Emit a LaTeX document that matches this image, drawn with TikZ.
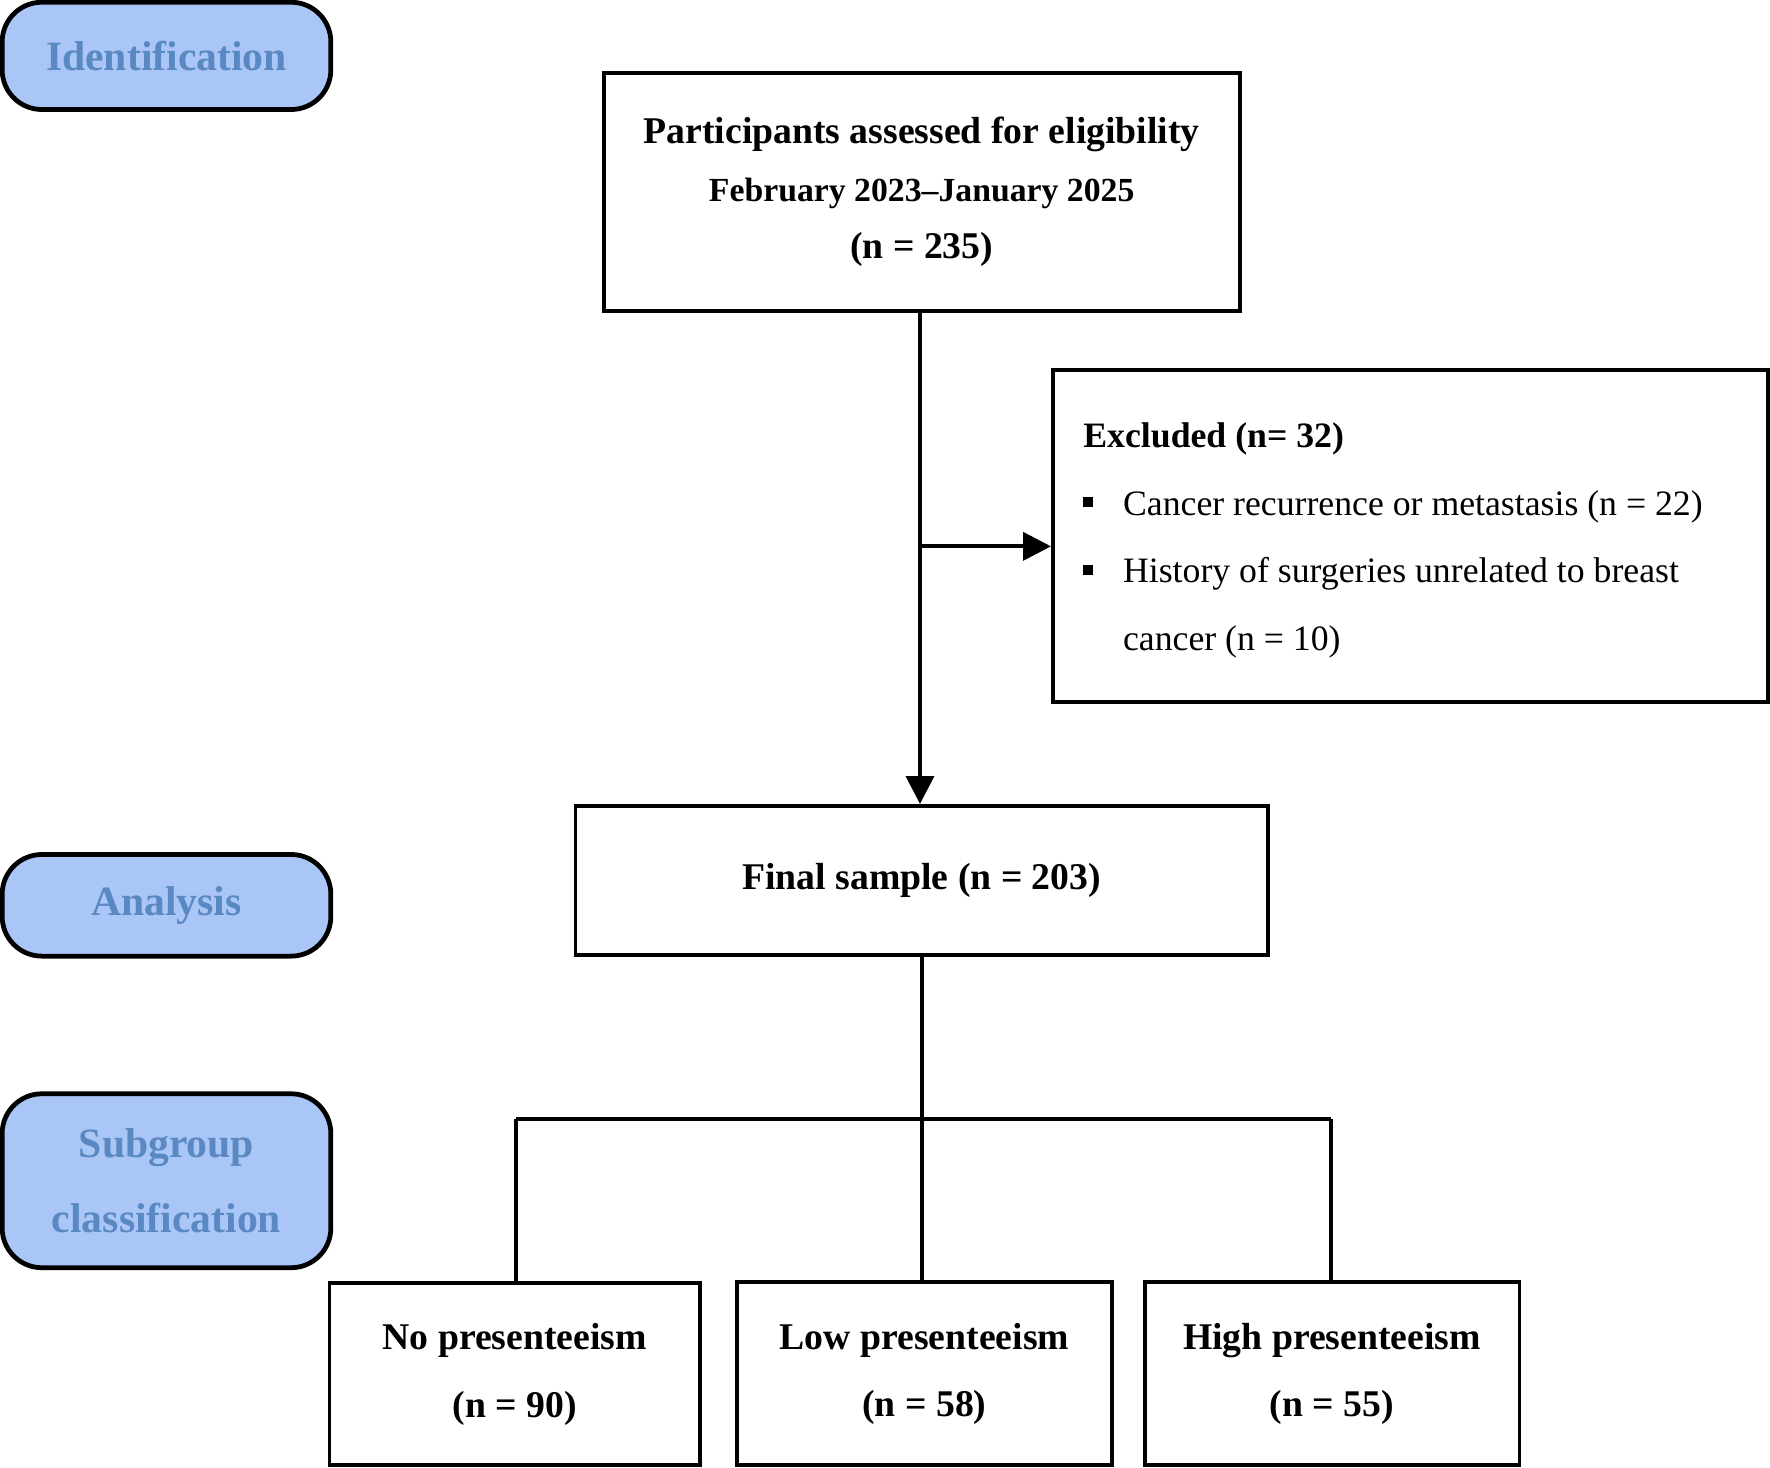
\documentclass[tikz,border=0pt]{standalone}
\usepackage{fontspec}
\setmainfont{Liberation Serif}
\usetikzlibrary{positioning,arrows.meta}
\definecolor{stagefill}{HTML}{A9C6F7}
\definecolor{stagetext}{HTML}{5A88C2}
\newcommand\sqbullet{\raisebox{2pt}{\rule{2.5pt}{2.5pt}}\hspace{7.5pt}}
\tikzset{
  stage/.style={draw,line width=1.2pt,rounded corners=10pt,fill=stagefill,text=stagetext,
    font=\fontsize{10.5}{19}\selectfont\bfseries,align=center,inner sep=0pt},
  flowbox/.style={draw,line width=1pt,align=center,inner sep=0pt},
}
\begin{document}
\begin{tikzpicture}[x=0.01cm,y=-0.01cm,line width=1pt,>={Triangle[length=7pt,width=7pt]}]
\useasboundingbox (0,0) rectangle (1568,1300);
% stage labels
\node [stage,minimum width=2.91cm,minimum height=0.95cm] (ident) at (147.5,49.5) {Identification};
\node [stage,minimum width=2.91cm,minimum height=0.90cm] (anal) at (147.5,802) {Analysis};
\node [stage,minimum width=2.91cm,minimum height=1.54cm] (subg) at (147.5,1046) {Subgroup\\classification};
% main boxes
\node [flowbox,minimum width=5.63cm,minimum height=2.11cm,font=\fontsize{9.5}{14.5}\selectfont\bfseries] (assess) at (816.5,170)
  {Participants assessed for eligibility\\{\fontsize{8.5}{14.5}\selectfont February 2023--January 2025}\\(n = 235)};
\node [flowbox,minimum width=6.33cm,minimum height=2.94cm] (excl) at (1249.5,475) {};
\node [anchor=north west,align=left,font=\fontsize{9}{17}\selectfont,inner sep=0pt] (excltxt) at (958,373)
  {\textbf{Excluded (n= 32)}\\
   \sqbullet Cancer recurrence or metastasis (n = 22)\\
   \sqbullet History of surgeries unrelated to breast\\
   \hspace{10pt}cancer (n = 10)};
\node [flowbox,minimum width=6.13cm,minimum height=1.32cm,font=\fontsize{9.5}{18}\selectfont\bfseries] (final) at (816.5,780) {Final sample (n = 203)};
\node [flowbox,minimum width=3.28cm,minimum height=1.61cm,font=\fontsize{9.5}{17}\selectfont\bfseries] (nopres) at (456,1217.5) {No presenteeism\\(n = 90)};
\node [flowbox,minimum width=3.32cm,minimum height=1.62cm,font=\fontsize{9.5}{17}\selectfont\bfseries] (lowpres) at (819,1217) {Low presenteeism\\(n = 58)};
\node [flowbox,minimum width=3.32cm,minimum height=1.62cm,font=\fontsize{9.5}{17}\selectfont\bfseries] (highpres) at (1180,1217) {High presenteeism\\(n = 55)};
% connectors
\coordinate (split) at (815,484);
\coordinate (fork) at (817,991);
\draw[->] (assess.south -| split) -- (final.north -| split);
\draw[->] (split) -- (split -| excl.west);
\draw (final.south -| fork) -- (fork);
\draw (457,991) -- (1179,991);
\draw (457,991) -- (457,1137);
\draw (fork) -- (fork |- lowpres.north);
\draw (1179,991) -- (1179,1136);
\end{tikzpicture}
\end{document}
